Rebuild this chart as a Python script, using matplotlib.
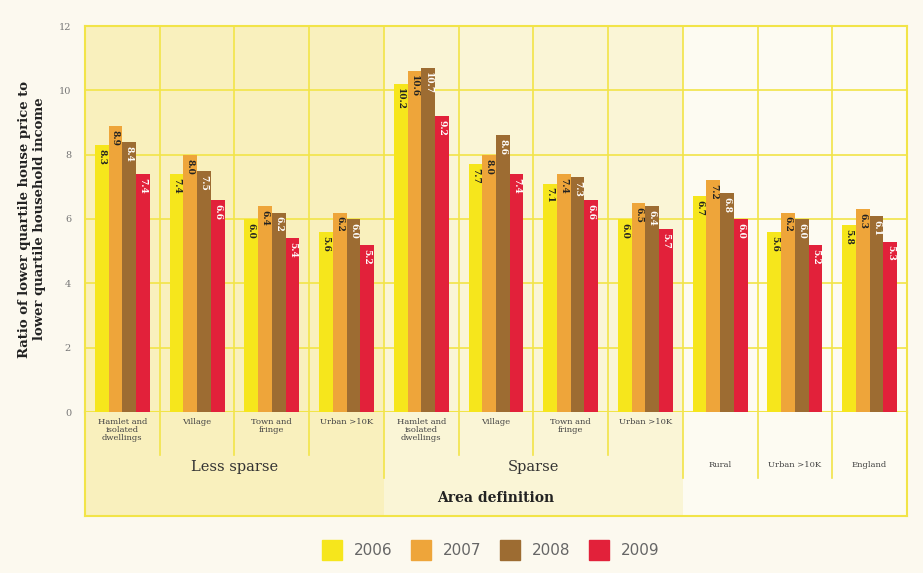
import matplotlib.pyplot as plt
from matplotlib.patches import Patch
import numpy as np

# data
years = ['2006', '2007', '2008', '2009']
areas = ['Hamlet and\nisolated\ndwellings', 'Village', 'Town and\nfringe', 'Urban >10K',
         'Hamlet and\nisolated\ndwellings', 'Village', 'Town and\nfringe', 'Urban >10K',
         'Rural', 'Urban >10K', 'England']
v2006 = [8.3, 7.4, 6.0, 5.6, 10.2, 7.7, 7.1, 6.0, 6.7, 5.6, 5.8]
v2007 = [8.9, 8.0, 6.4, 6.2, 10.6, 8.0, 7.4, 6.5, 7.2, 6.2, 6.3]
v2008 = [8.4, 7.5, 6.2, 6.0, 10.7, 8.6, 7.3, 6.4, 6.8, 6.0, 6.1]
v2009 = [7.4, 6.6, 5.4, 5.2, 9.2, 7.4, 6.6, 5.7, 6.0, 5.2, 5.3]
groups = ['Less sparse', 'Sparse']

colors = ['#f6e61c', '#eea53a', '#9d6c32', '#e2213a']
txtcol = ['#222222', '#222222', 'white', 'white']
gridc = '#f2e448'
bg = '#fcf9ef'
less_bg = '#f9f0bd'
sparse_bg = '#faf5d6'
right_bg = '#fdfbf2'

W, H = 923, 573
fig = plt.figure(figsize=(W / 100, H / 100), dpi=100)
fig.patch.set_facecolor(bg)

x0, x1, ytop, ybase, ybot = 85, 907, 26, 412, 516
ax = fig.add_axes([x0 / W, 1 - ybase / H, (x1 - x0) / W, (ybase - ytop) / H])
axb = fig.add_axes([x0 / W, 1 - ybot / H, (x1 - x0) / W, (ybot - ybase) / H])

n = len(areas)
x = np.arange(n)
for a in (ax, axb):
    a.set_xlim(-0.5, n - 0.5)
    a.axvspan(-0.5, 3.5, color=less_bg, zorder=0, lw=0)
    a.axvspan(3.5, 7.5, color=sparse_bg, zorder=0, lw=0)
    a.axvspan(7.5, n - 0.5, color=right_bg, zorder=0, lw=0)
    for s in a.spines.values():
        s.set_color(gridc)
        s.set_linewidth(1.5)

ax.set_ylim(0, 12)
ax.set_yticks(range(0, 13, 2))
ax.tick_params(axis='y', length=0, labelsize=7, labelcolor='#777777', pad=10)
for t in ax.get_yticklabels():
    t.set_family('DejaVu Serif')
ax.set_xticks([])
for yv in range(2, 12, 2):
    ax.axhline(yv, color=gridc, lw=1.2, zorder=1)
for xv in np.arange(0.5, n - 0.5, 1):
    ax.axvline(xv, color=gridc, lw=1.2, zorder=1)

bw = 0.184
series = [v2006, v2007, v2008, v2009]
for i, vals in enumerate(series):
    xs = x + (i - 1.5) * bw
    ax.bar(xs, vals, width=bw, color=colors[i], zorder=3, lw=0)
    for xx, v in zip(xs, vals):
        ax.text(xx, v - 0.12, f'{v:.1f}', rotation=270, ha='center', va='top',
                fontsize=6.5, fontweight='bold', family='DejaVu Serif',
                color=txtcol[i], zorder=4)

ax.set_ylabel('Ratio of lower quartile house price to\nlower quartile household income',
              family='DejaVu Serif', fontweight='bold', fontsize=9.5, color='#222222',
              labelpad=9)

# lower category area
axb.set_ylim(1, 0)
axb.set_xticks([])
axb.set_yticks([])
axb.spines['top'].set_visible(False)
for xv in [0.5, 1.5, 2.5, 4.5, 5.5, 6.5]:
    axb.plot([xv, xv], [0, 0.41], color=gridc, lw=1.2)
for xv in [3.5, 7.5, 8.5, 9.5]:
    axb.plot([xv, xv], [0, 0.63], color=gridc, lw=1.2)
for i, lab in enumerate(areas):
    if i < 8:
        axb.text(i, 0.06, lab, ha='center', va='top', fontsize=6,
                 family='DejaVu Serif', color='#444444', linespacing=0.95)
    else:
        axb.text(i, 0.51, lab, ha='center', va='center', fontsize=6,
                 family='DejaVu Serif', color='#444444')
axb.text(1.5, 0.53, groups[0], ha='center', va='center', fontsize=10.5,
         family='DejaVu Serif', color='#333333')
axb.text(5.5, 0.53, groups[1], ha='center', va='center', fontsize=10.5,
         family='DejaVu Serif', color='#333333')
axb.text((n - 1) / 2, 0.83, 'Area definition', ha='center', va='center', fontsize=10,
         family='DejaVu Serif', fontweight='bold', color='#222222')

handles = [Patch(color=c, label=y) for c, y in zip(colors, years)]
fig.legend(handles=handles, loc='center', bbox_to_anchor=(0.532, 1 - 550 / H), ncol=4,
           frameon=False, fontsize=11, handlelength=1.3, handleheight=1.6,
           columnspacing=1.2, handletextpad=0.8, labelcolor='#666666')

fig.savefig('out.png', dpi=100, facecolor=fig.get_facecolor())
